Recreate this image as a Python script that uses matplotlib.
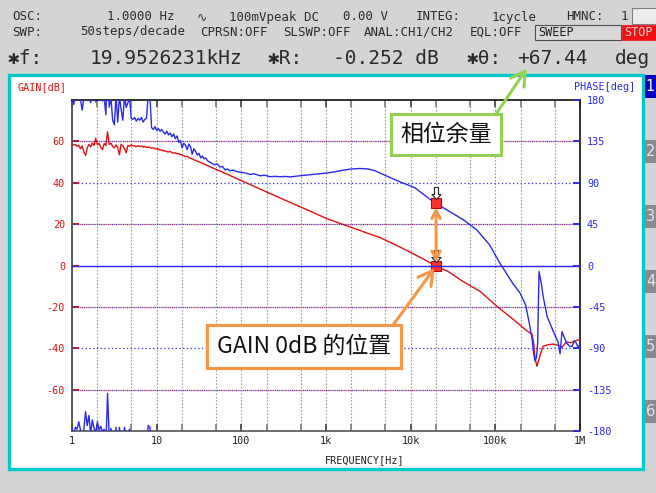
import numpy as np
import matplotlib
matplotlib.use("Agg")
import matplotlib.pyplot as plt
from matplotlib.patches import Rectangle
from matplotlib.path import Path
from matplotlib.ticker import FixedLocator, NullLocator, NullFormatter

plt.rcParams["font.family"] = ["DejaVu Sans Mono", "DejaVu Sans"]
plt.rcParams["axes.unicode_minus"] = False
CJK = ["Noto Sans CJK SC", "DejaVu Sans"]

# ---- sweep readings: 1 Hz .. 40 Hz, every step (50 steps/decade) ----
freq_lo = [1.000, 1.047, 1.096, 1.148, 1.202, 1.259, 1.318, 1.380, 1.445, 1.514,
           1.585, 1.660, 1.738, 1.820, 1.905, 1.995, 2.089, 2.188, 2.291, 2.399,
           2.512, 2.630, 2.754, 2.884, 3.020, 3.162, 3.311, 3.467, 3.631, 3.802,
           3.981, 4.169, 4.365, 4.571, 4.786, 5.012, 5.248, 5.495, 5.754, 6.026,
           6.310, 6.607, 6.918, 7.244, 7.586, 7.943, 8.318, 8.710, 9.120, 9.550,
           10.00, 10.47, 10.96, 11.48, 12.02, 12.59, 13.18, 13.80, 14.45, 15.14,
           15.85, 16.60, 17.38, 18.20, 19.05, 19.95, 20.89, 21.88, 22.91, 23.99,
           25.12, 26.30, 27.54, 28.84, 30.20, 31.62, 33.11, 34.67, 36.31, 38.02,
           39.81]
gain_lo = [58.8, 58.2, 58.5, 57.6, 58.0, 56.5, 57.8, 55.0, 53.2, 56.8,
           58.6, 57.4, 59.2, 58.0, 61.5, 58.3, 59.0, 57.2, 56.0, 59.0,
           58.0, 64.6, 58.5, 59.1, 57.6, 56.8, 58.3, 57.0, 53.5, 58.6,
           57.8, 56.5, 54.5, 58.1, 57.6, 58.3, 57.8, 57.9, 57.4, 57.9,
           57.5, 57.8, 57.2, 57.6, 57.0, 57.3, 57.1, 56.7, 56.9, 56.6,
           56.2, 56.4, 55.7, 55.9, 55.3, 55.5, 55.0, 54.9, 55.1, 54.6,
           54.3, 54.5, 54.0, 54.1, 53.7, 53.4, 53.1, 52.6, 52.8, 52.2,
           51.9, 51.5, 51.1, 50.8, 50.4, 50.1, 49.7, 49.4, 49.0, 48.7,
           48.3]
phase_lo = [183, 175, 184, 182, 190, 181, 169, 182, 201, 186,
            197, 177, 192, 183, 178, 190, 181, 185, 179, 182,
            164, 221, 172, 183, 158, 153, 184, 156, 184, 170,
            158, 184, 172, 177, 182, 160, 159, 161, 157, 160,
            158, 161, 156, 159, 160, 186, 184, 150, 148, 151,
            147, 149, 146, 148, 145, 143, 146, 142, 144, 140,
            143, 138, 141, 134, 136, 128, 133, 131, 126, 132,
            129, 121, 127, 124, 120, 122, 117, 119, 116, 117,
            114]

# ---- readings above 40 Hz ----
freq_gain = [50, 70, 100, 150, 200, 300, 500, 700, 1000, 1500,
             2000, 3000, 4340, 6000, 8000, 10000, 14000, 19952.6231, 27600, 41500,
             66000, 105000, 162000, 212000, 240000, 270000, 282000, 295000, 310000, 340000,
             366000, 420000, 480000, 560000, 613000, 690000, 780000, 870000, 1000000]
gain_db = [46.5, 43.9, 41.0, 37.8, 35.5, 32.3, 28.3, 25.7, 22.8, 20.2,
           18.4, 15.8, 13.5, 10.8, 8.3, 6.3, 3.2, -0.252, -2.9, -7.7,
           -12.5, -19.8, -26.0, -30.0, -31.8, -33.0, -36.6, -45.0, -48.7, -43.0,
           -39.0, -38.3, -38.0, -38.6, -39.5, -37.0, -37.3, -36.5, -35.7]

freq_phase = [45, 49, 52, 56, 60, 64, 68, 73, 80, 90,
              96, 110, 127, 140, 166, 190, 218, 250, 286, 330,
              375, 493, 646, 847, 1115, 1460, 1920, 2500, 3135, 3800,
              5000, 7480, 11200, 16900, 19952.6231, 29000, 41500, 60000, 85000, 112000,
              162000, 196000, 228000, 251000, 272000, 283000, 294000, 306000, 316000, 328000,
              347000, 366000, 408000, 480000, 550000, 581000, 613000, 650000, 703000, 760000,
              804000, 860000, 900000, 950000, 1000000]
phase_deg = [111, 109.5, 110.5, 107, 107.8, 104, 105, 103, 103.8, 102,
             101.5, 100.8, 99, 99.8, 97.6, 98.2, 96.5, 97, 96.5, 96.9,
             96.3, 97.6, 98.7, 99.8, 101, 103, 104.8, 105.5, 105, 103,
             98, 91, 84.6, 72, 67.44, 58.5, 50, 39, 22.8, 3.3,
             -20, -30, -43, -62, -80, -95, -104, -100, -85, -6.5,
             -18, -33, -55, -71, -83, -96, -72, -78, -85, -88,
             -88, -82, -84, -89, -85.7]

# ---- cursor readout ----
marker_freq = 19952.6231
marker_gain = -0.252
marker_phase = 67.44

gain_ticks = [-60, -40, -20, 0, 20, 40, 60]
gain_red_grid = [-60, -20, 0, 20, 60]
phase_ticks = [-180, -135, -90, -45, 0, 45, 90, 135, 180]
freq_ticks = [1, 10, 100, 1e3, 1e4, 1e5, 1e6]
freq_labels = ["1", "10", "100", "1k", "10k", "100k", "1M"]
tab_labels = ["1", "2", "3", "4", "5", "6"]

SCREEN = "#d4d4d4"
CYAN = "#00c8cc"
RED = "#e01010"
BLUE = "#2a2aee"
ORANGE = "#f79646"
GREEN = "#92d050"
TEXT = "#1e1e1e"

W, H = 656, 493
fig = plt.figure(figsize=(W / 100, H / 100), dpi=100, facecolor=SCREEN)


def fx(x):
    return x / W


def fy(y):
    return 1 - y / H


def box(x0, y0, x1, y1, **kw):
    fig.add_artist(Rectangle((fx(x0), fy(y1)), (x1 - x0) / W, (y1 - y0) / H,
                             transform=fig.transFigure, **kw))


# ---- status header ----
row1 = [("OSC:", 12), ("1.0000 Hz", 107), ("\u223f", 197), ("100mVpeak DC", 229),
        ("0.00 V", 343), ("INTEG:", 416), ("1cycle", 492), ("HMNC:", 566), ("1", 621)]
row2 = [("SWP:", 12), ("50steps/decade", 80), ("CPRSN:OFF", 200), ("SLSWP:OFF", 283),
        ("ANAL:CH1/CH2", 364), ("EQL:OFF", 470)]
for s, x in row1:
    fig.text(fx(x), fy(17), s, fontsize=8.9, color="#2a2a2a", va="center", ha="left")
for s, x in row2:
    fig.text(fx(x), fy(32), s, fontsize=8.9, color="#2a2a2a", va="center", ha="left")
box(632, 8, 660, 24, fc="#ececec", ec="#808080", lw=0.8)
box(535, 25, 621, 40, fc="#d8d8d8", ec="#505050", lw=0.8)
fig.text(fx(538), fy(32.5), "SWEEP", fontsize=8.5, color=TEXT, va="center", ha="left")
box(622, 25, 660, 40, fc="#ee1111", ec="#ee1111", lw=0.5)
fig.text(fx(624), fy(32.5), "STOP", fontsize=8.5, color="#ffd0d0", va="center", ha="left")

freq_str = f"{marker_freq / 1000:.7f}kHz"
gain_str = f"{marker_gain:.3f} dB"
phase_str = f"{marker_phase:+.2f}"
row3 = [("\u2731f:", 8), (freq_str, 90), ("\u2731R:", 268), (gain_str, 333),
        ("\u2731\u03b8:", 467), (phase_str, 517), ("deg", 615)]
row3_texts = []
for s, x in row3:
    row3_texts.append(fig.text(fx(x), fy(58), s, fontsize=14.0, color="#2a2a2a",
                               va="center", ha="left"))
theta_text = row3_texts[5]

# ---- display panel and side tabs ----
box(9, 75, 643, 469, fc="white", ec=CYAN, lw=2.4, zorder=-1)
for i, lab in enumerate(tab_labels):
    y0 = 75 + 65 * i
    active = i == 0
    box(645, y0, 660, y0 + 23, fc="#0000c0" if active else "#8a8a8a", ec="none")
    fig.text(fx(650.5), fy(y0 + 11.5), lab, fontsize=10.5, va="center", ha="center",
             color="white" if active else "#e8e8e8", family=["DejaVu Sans"])

# ---- plot axes ----
ax = fig.add_axes([fx(72), fy(431), 508 / W, 331 / H])
ax.set_xscale("log")
ax.set_xlim(1, 1e6)
ax.set_ylim(-80, 80)
ax2 = ax.twinx()
ax2.set_ylim(-180, 180)

ax.set_xticks(freq_ticks, labels=freq_labels)
minor = [m * d for d in freq_ticks[:-1] for m in (2, 5)]
ax.xaxis.set_minor_locator(FixedLocator(minor))
ax.xaxis.set_minor_formatter(NullFormatter())
ax.grid(axis="x", which="both", color="#8a8a8a", ls=(0, (1.2, 1.8)), lw=0.8)
ax.tick_params(axis="x", which="both", direction="in", top=True, bottom=True,
               length=5, width=1.1, color="#303030", labelsize=7.3,
               labelcolor=TEXT, pad=3.5)
ax.tick_params(axis="x", which="minor", color="#707070")

ax.set_yticks(gain_ticks, labels=[str(v) for v in gain_ticks])
ax.yaxis.set_minor_locator(NullLocator())
ax.tick_params(axis="y", direction="in", length=5, width=1.4, color=RED,
               labelcolor=RED, labelsize=7.3, pad=5)
ax2.set_yticks(phase_ticks, labels=[str(v) for v in phase_ticks])
ax2.yaxis.set_minor_locator(NullLocator())
ax2.tick_params(axis="y", direction="in", length=5, width=1.4, color=BLUE,
                labelcolor=BLUE, labelsize=7.3, pad=5)

for v in phase_ticks[1:-1]:
    if v == 0:
        ax2.axhline(v, color=BLUE, lw=1.0, zorder=1)
    else:
        ax2.axhline(v, color=BLUE, lw=0.9, ls=(1.5, (1, 2)), zorder=1)
for v in gain_red_grid:
    ax.axhline(v, color=RED, lw=0.9, ls=(0, (1, 2)), zorder=1, alpha=0.85)

for name, c in [("left", "#505050"), ("bottom", "#606060"), ("top", "#202020"),
                ("right", "#202020")]:
    ax.spines[name].set_color(c)
    ax.spines[name].set_linewidth(1.3)
for s in ax2.spines.values():
    s.set_visible(False)

# ---- traces ----
ax.plot(freq_lo + freq_gain, gain_lo + gain_db, color=RED, lw=1.0, zorder=3)
pf = np.array(freq_lo + freq_phase)
pv = np.array(phase_lo + phase_deg)
ax2.plot(pf, pv, color=BLUE, lw=1.0, zorder=3)
# readings beyond +180 deg wrap round to the bottom of the phase scale
ax2.plot(pf, pv - 360, color=BLUE, lw=1.0, zorder=3)

# ---- cursor markers ----
cursor = Path([(0, 4), (4.5, 9), (2, 9), (2, 16), (-2, 16), (-2, 9), (-4.5, 9), (0, 4)],
              [Path.MOVETO] + [Path.LINETO] * 6 + [Path.CLOSEPOLY])
cursor_ms = 2 * 16 * 72 / 100
ax2.plot([marker_freq], [marker_phase], marker="s", ms=7, mfc="#ff3030",
         mec="#c00000", mew=0.8, ls="none", zorder=5)
ax2.plot([marker_freq], [marker_phase], marker=cursor, ms=cursor_ms, mfc="white",
         mec="#202020", mew=0.8, ls="none", zorder=6)
ax.plot([marker_freq], [marker_gain], marker="s", ms=7, mfc="#ff3030",
        mec="#c00000", mew=0.8, ls="none", zorder=5)
ax2.plot([marker_freq], [marker_gain], marker=cursor, ms=cursor_ms, mfc="white",
         mec="#202020", mew=0.8, ls="none", zorder=6, transform=ax.transData)

# ---- call-outs ----
ax2.annotate("", xy=(marker_freq, marker_gain), xycoords=ax.transData,
             xytext=(marker_freq, marker_phase), textcoords=ax2.transData,
             arrowprops=dict(arrowstyle="<->,head_length=0.55,head_width=0.3",
                             color=ORANGE, lw=2.2, shrinkA=3, shrinkB=3),
             zorder=7)
ax2.annotate("GAIN 0dB 的位置", xy=(marker_freq, marker_gain), xycoords=ax.transData,
             xytext=(304, H - 346.5), textcoords="figure pixels",
             ha="center", va="center", fontsize=16.5, family=CJK, color="#111111",
             bbox=dict(boxstyle="square,pad=0.42", fc="white", ec=ORANGE, lw=2.2),
             arrowprops=dict(arrowstyle="->,head_length=0.6,head_width=0.35",
                             color=ORANGE, lw=2.2, relpos=(0.97, 1.0),
                             shrinkA=0, shrinkB=2),
             zorder=8, annotation_clip=False)
ax2.annotate("相位余量", xy=(0.15, 0.0), xycoords=theta_text,
             xytext=(446, H - 134.5), textcoords="figure pixels",
             ha="center", va="center", fontsize=16.5, family=CJK, color="#111111",
             bbox=dict(boxstyle="square,pad=0.4", fc="white", ec=GREEN, lw=2.2),
             arrowprops=dict(arrowstyle="->,head_length=0.6,head_width=0.35",
                             color=GREEN, lw=2.2, relpos=(0.98, 1.0),
                             shrinkA=0, shrinkB=1),
             zorder=8, annotation_clip=False)

# ---- axis captions ----
fig.text(fx(17), fy(87), "GAIN[dB]", fontsize=7.3, color=RED, va="center", ha="left")
fig.text(fx(635), fy(87), "PHASE[deg]", fontsize=7.3, color=BLUE, va="center", ha="right")
fig.text(fx(365), fy(460), "FREQUENCY[Hz]", fontsize=7.3, color=TEXT, va="center",
         ha="center")

fig.savefig("out.png", dpi=100, facecolor=fig.get_facecolor())
